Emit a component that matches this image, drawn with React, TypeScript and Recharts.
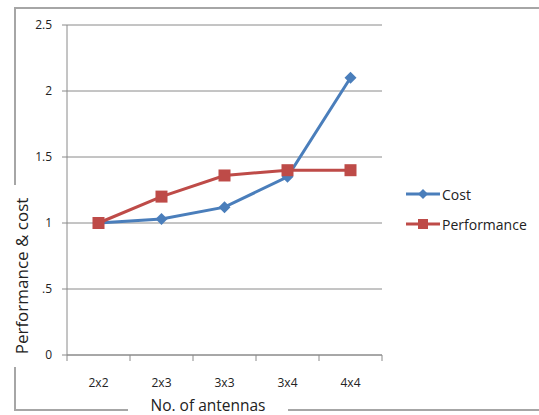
import { CartesianGrid, Line, LineChart, XAxis, YAxis } from 'recharts'

const antennas = ['2x2', '2x3', '3x3', '3x4', '4x4']
const cost = [1, 1.03, 1.12, 1.35, 2.1]
const performance = [1, 1.2, 1.36, 1.4, 1.4]
const yTicks = [0, 0.5, 1, 1.5, 2, 2.5]

const BLUE = '#4a7ebb'
const RED = '#be4b48'
const GRAY = '#8a8a8a'
const FONT = '"Open Sans", "Noto Sans", sans-serif'

const W = 539
const H = 415
const Y_AXIS_W = 67
const RIGHT = 157
const BAND = (W - RIGHT - Y_AXIS_W) / antennas.length

const data = antennas.map((name, i) => ({ name, cost: cost[i], performance: performance[i] }))

const Diamond = (props: any) => {
  const { cx, cy, key } = props
  if (cx == null || cy == null) return null
  const r = 6
  return <polygon key={key} points={`${cx},${cy - r} ${cx + r},${cy} ${cx},${cy + r} ${cx - r},${cy}`} fill={BLUE} />
}

const Square = (props: any) => {
  const { cx, cy, key } = props
  if (cx == null || cy == null) return null
  const s = 12
  return <rect key={key} x={cx - s / 2} y={cy - s / 2} width={s} height={s} fill={RED} />
}

// category label in the middle of its band, tick marks on the band edges
const CatTick = (props: any) => {
  const { x, y, payload, index } = props
  const last = index === antennas.length - 1
  return (
    <g>
      <line x1={x - BAND / 2} y1={y} x2={x - BAND / 2} y2={y + 6} stroke={GRAY} />
      {last && <line x1={x + BAND / 2} y1={y} x2={x + BAND / 2} y2={y + 6} stroke={GRAY} />}
      <text x={x} y={y + 32} textAnchor="middle" fill="#222" fontSize={12} fontFamily={FONT}>
        {payload.value}
      </text>
    </g>
  )
}

function LegendBox() {
  const items = [
    { label: 'Cost', color: BLUE, marker: 'diamond' },
    { label: 'Performance', color: RED, marker: 'square' },
  ]
  return (
    <div style={{ position: 'absolute', left: 406, top: 179 }}>
      {items.map((it) => (
        <div key={it.label} style={{ display: 'flex', alignItems: 'center', height: 30 }}>
          <svg width={36} height={14}>
            <line x1={0} y1={7} x2={34} y2={7} stroke={it.color} strokeWidth={3} />
            {it.marker === 'diamond' ? (
              <polygon points="17,2 22,7 17,12 12,7" fill={it.color} />
            ) : (
              <rect x={12} y={2} width={10} height={10} fill={it.color} />
            )}
          </svg>
          <span style={{ fontFamily: FONT, fontSize: 14, color: '#222' }}>{it.label}</span>
        </div>
      ))}
    </div>
  )
}

export default function App() {
  return (
    <div style={{ position: 'absolute', left: 0, top: 0, width: W, height: H, background: '#fff', overflow: 'hidden' }}>
      {/* outer chart frame, right side runs off the picture */}
      <div
        style={{
          position: 'absolute',
          left: 14,
          top: 7,
          width: 600,
          height: 404,
          borderLeft: '2px solid #a6a6a6',
          borderTop: '2px solid #a6a6a6',
          borderBottom: '2px solid #a6a6a6',
          boxSizing: 'border-box',
        }}
      />
      <div style={{ position: 'absolute', left: 0, top: 0 }}>
        <LineChart width={W} height={H} data={data} margin={{ top: 25, right: RIGHT, bottom: 0, left: 0 }}>
          <CartesianGrid vertical={false} stroke={GRAY} strokeWidth={1} />
          <XAxis
            dataKey="name"
            height={60}
            padding={{ left: BAND / 2, right: BAND / 2 }}
            axisLine={{ stroke: GRAY }}
            tickLine={false}
            tickSize={0}
            tickMargin={0}
            interval={0}
            tick={CatTick}
          />
          <YAxis
            width={Y_AXIS_W}
            domain={[0, 2.5]}
            ticks={yTicks}
            interval={0}
            axisLine={{ stroke: GRAY }}
            tickLine={{ stroke: GRAY }}
            tickSize={5}
            tickMargin={10}
            tickFormatter={(v: number) => (v === 0.5 ? '.5' : String(v))}
            tick={{ fill: '#222', fontSize: 12, fontFamily: FONT }}
          />
          <Line
            dataKey="cost"
            name="Cost"
            stroke={BLUE}
            strokeWidth={3}
            dot={Diamond}
            activeDot={false}
            isAnimationActive={false}
          />
          <Line
            dataKey="performance"
            name="Performance"
            stroke={RED}
            strokeWidth={3}
            dot={Square}
            activeDot={false}
            isAnimationActive={false}
          />
        </LineChart>
      </div>
      <LegendBox />
      <div
        style={{
          position: 'absolute',
          left: 128,
          top: 396,
          width: 160,
          height: 18,
          background: '#fff',
          textAlign: 'center',
          fontFamily: FONT,
          fontSize: 15.5,
          color: '#222',
          lineHeight: '18px',
        }}
      >
        No. of antennas
      </div>
      <div
        style={{
          position: 'absolute',
          left: 22 - 91,
          top: 276 - 11,
          width: 182,
          height: 22,
          background: '#fff',
          textAlign: 'center',
          fontFamily: FONT,
          fontSize: 17,
          color: '#222',
          lineHeight: '22px',
          transform: 'rotate(-90deg)',
        }}
      >
        Performance &amp; cost
      </div>
    </div>
  )
}
